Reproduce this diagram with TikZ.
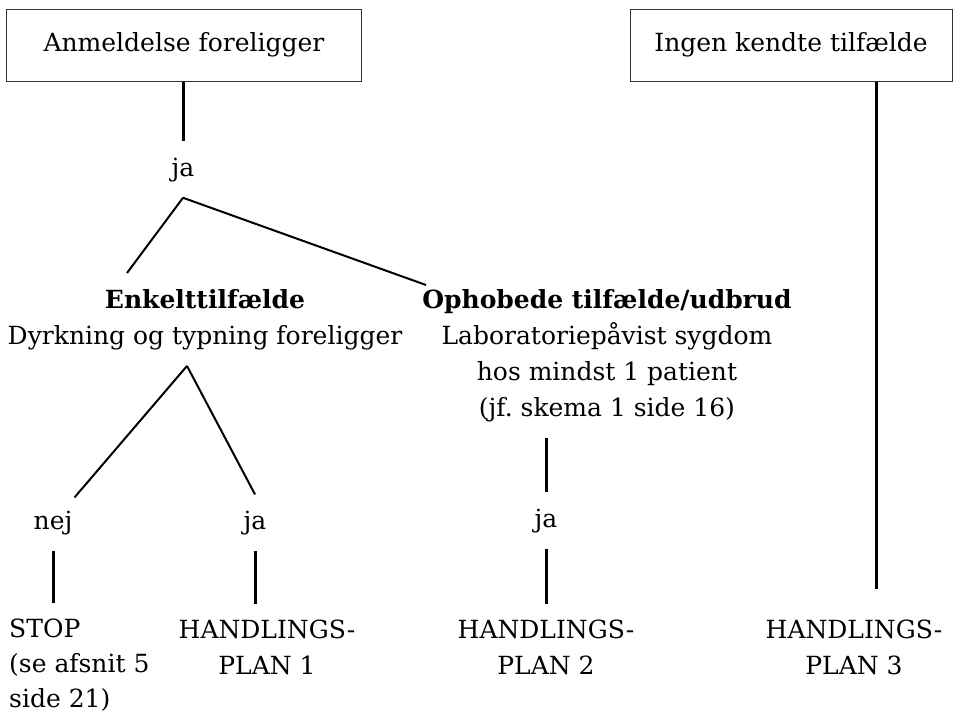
\documentclass[tikz,border=0pt]{standalone}
\usepackage{fontspec}
\setmainfont{DejaVu Serif}
\usetikzlibrary{positioning}

\begin{document}
\begin{tikzpicture}[x=1pt, y=-1pt, every node/.style={font=\fontsize{25}{36}\selectfont}]
        \useasboundingbox (0,0) rectangle (954,713);

        % Stilarter
        \tikzstyle{box} = [rectangle, draw=black!80, line width=1pt, minimum width=355pt, minimum height=72pt, inner sep=0pt]
        \tikzstyle{answer} = [inner xsep=2pt, inner ysep=16pt, anchor=base]
        \tikzstyle{block} = [align=center, inner xsep=2pt, inner ysep=16pt, anchor=north]
        \tikzstyle{stem} = [line width=3pt]
        \tikzstyle{branch} = [line width=2pt]

        % Kasser
        \node (anmeld) [box] at (184,45) {Anmeldelse foreligger};
        \node (ingen) [box, minimum width=322pt] at (791,45) {Ingen kendte tilfælde};

        % Tekster
        \node (ja1) [answer] at (183,176) {ja};
        \node (enkelt) [block] at (205,273) {\textbf{Enkelttilfælde}\\Dyrkning og typning foreligger};
        \node (ophob) [block] at (607,273) {\textbf{Ophobede tilfælde/udbrud}\\Laboratoriepåvist sygdom\\hos mindst 1 patient\\(jf.\ skema 1 side 16)};
        \node (nej) [answer] at (53,529) {nej};
        \node (ja2) [answer] at (255,529) {ja};
        \node (ja3) [answer] at (546,527) {ja};
        \node (stop) [block, align=left, anchor=north west, font=\fontsize{25}{35}\selectfont] at (7,603) {STOP\\(se afsnit 5\\side 21)};
        \node (plan1) [block] at (267,604) {HANDLINGS-\\PLAN 1};
        \node (plan2) [block] at (546,604) {HANDLINGS-\\PLAN 2};
        \node (plan3) [block] at (854,604) {HANDLINGS-\\PLAN 3};

        % Linjer
        \draw [stem] (ja1.north |- anmeld.south) -- (ja1.north);
        \draw [branch] (ja1.south) -- ([xshift=-78pt]enkelt.north);
        \draw [branch] (ja1.south) -- ([xshift=-181pt, yshift=-12pt]ophob.north);
        \draw [branch] ([xshift=-18pt]enkelt.south) -- (nej);
        \draw [branch] ([xshift=-18pt]enkelt.south) -- (ja2.north);
        \draw [stem] (nej.south) -- (nej.south |- stop.north);
        \draw [stem] (ja2.south) -- (ja2.south |- plan1.north);
        \draw [stem] (ja3.north |- ophob.south) -- (ja3.north);
        \draw [stem] (ja3.south) -- (ja3.south |- plan2.north);
        \draw [stem, shorten >=15pt] ([xshift=85pt]ingen.south) -- ([xshift=85pt]ingen.south |- plan3.north);
    \end{tikzpicture}
\end{document}
